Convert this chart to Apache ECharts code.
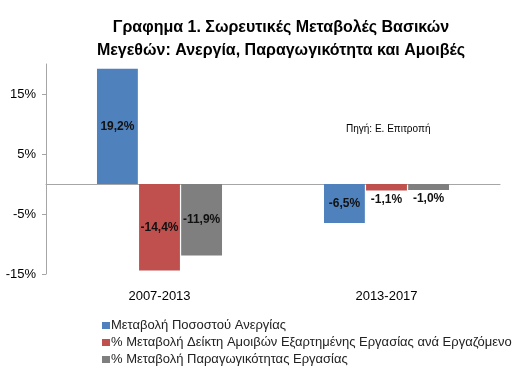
<!DOCTYPE html>
<html><head><meta charset="utf-8">
<script src="https://cdn.jsdelivr.net/npm/echarts@6/dist/echarts.min.js"></script>
<style>html,body{margin:0;padding:0;background:#fff}#c{width:530px;height:392px}</style>
</head><body><div id="c"></div>
<script>
const categories = ['2007-2013', '2013-2017'];
const seriesNames = [
  'Μεταβολή Ποσοστού Ανεργίας',
  '% Μεταβολή Δείκτη Αμοιβών Εξαρτημένης Εργασίας ανά Εργαζόμενο',
  '% Μεταβολή Παραγωγικότητας Εργασίας'
];
const unemployment = [19.2, -6.5];
const wages = [-14.4, -1.1];
const productivity = [-11.9, -1.0];
const colors = ['#4f81bd', '#c0504d', '#7f7f7f'];
const FONT = 'Arial, "Liberation Sans", sans-serif';

const fmt = p => p.value.toFixed(1).replace('.', ',') + '%';
function mkData(arr) {
  return arr.map(v => {
    const small = Math.abs(v) < 3;
    return small ? { value: v, label: { position: 'bottom', distance: 3 } } : { value: v };
  });
}
const values = [unemployment, wages, productivity];
const chart = echarts.init(document.getElementById('c'));
chart.setOption({
  animation: false,
  textStyle: { fontFamily: FONT },
  title: {
    text: 'Γραφημα 1. Σωρευτικές Μεταβολές Βασικών\nΜεγεθών: Ανεργία, Παραγωγικότητα και Αμοιβές',
    left: 276, textAlign: 'center', top: 11,
    textStyle: { fontFamily: FONT, fontSize: 16, fontWeight: 'bold', color: '#000', lineHeight: 23 }
  },
  graphic: [{
    type: 'text', left: 346, top: 124,
    style: { text: 'Πηγή: Ε. Επιτροπή', font: '10px ' + FONT, fill: '#000' }
  }],
  legend: {
    orient: 'vertical', left: 97, top: 314,
    itemWidth: 8, itemHeight: 7, itemGap: 4,
    icon: 'rect',
    textStyle: { fontFamily: FONT, fontSize: 13, color: '#222', padding: [0, 0, 0, -4] },
    data: seriesNames
  },
  grid: { left: 46, right: 30, top: 64, bottom: 118 },
  xAxis: [{
    type: 'category', data: categories,
    axisLine: { onZero: true, lineStyle: { color: '#a6a6a6' } },
    axisTick: { show: false }, axisLabel: { show: false }
  }, {
    type: 'category', data: categories, position: 'bottom',
    axisLine: { show: false, onZero: false }, axisTick: { show: false },
    axisLabel: { fontFamily: FONT, fontSize: 13, color: '#000', margin: 16 }
  }],
  yAxis: {
    type: 'value', min: -15, max: 20, interval: 10,
    axisLine: { show: true, lineStyle: { color: '#a6a6a6' } },
    axisTick: { show: true, length: 4, lineStyle: { color: '#a6a6a6' } },
    splitLine: { show: false },
    axisLabel: { showMaxLabel: false, fontFamily: FONT, fontSize: 13, color: '#000', margin: 10,
      formatter: v => v + '%' }
  },
  series: seriesNames.map((n, i) => ({
    name: n, type: 'bar', xAxisIndex: 0,
    data: mkData(values[i]),
    barWidth: '18%', barGap: '3%',
    itemStyle: { color: colors[i] },
    label: { show: true, position: 'inside', formatter: fmt,
      fontFamily: FONT, fontSize: 12, fontWeight: 'bold', color: '#111' }
  }))
});
</script></body></html>
